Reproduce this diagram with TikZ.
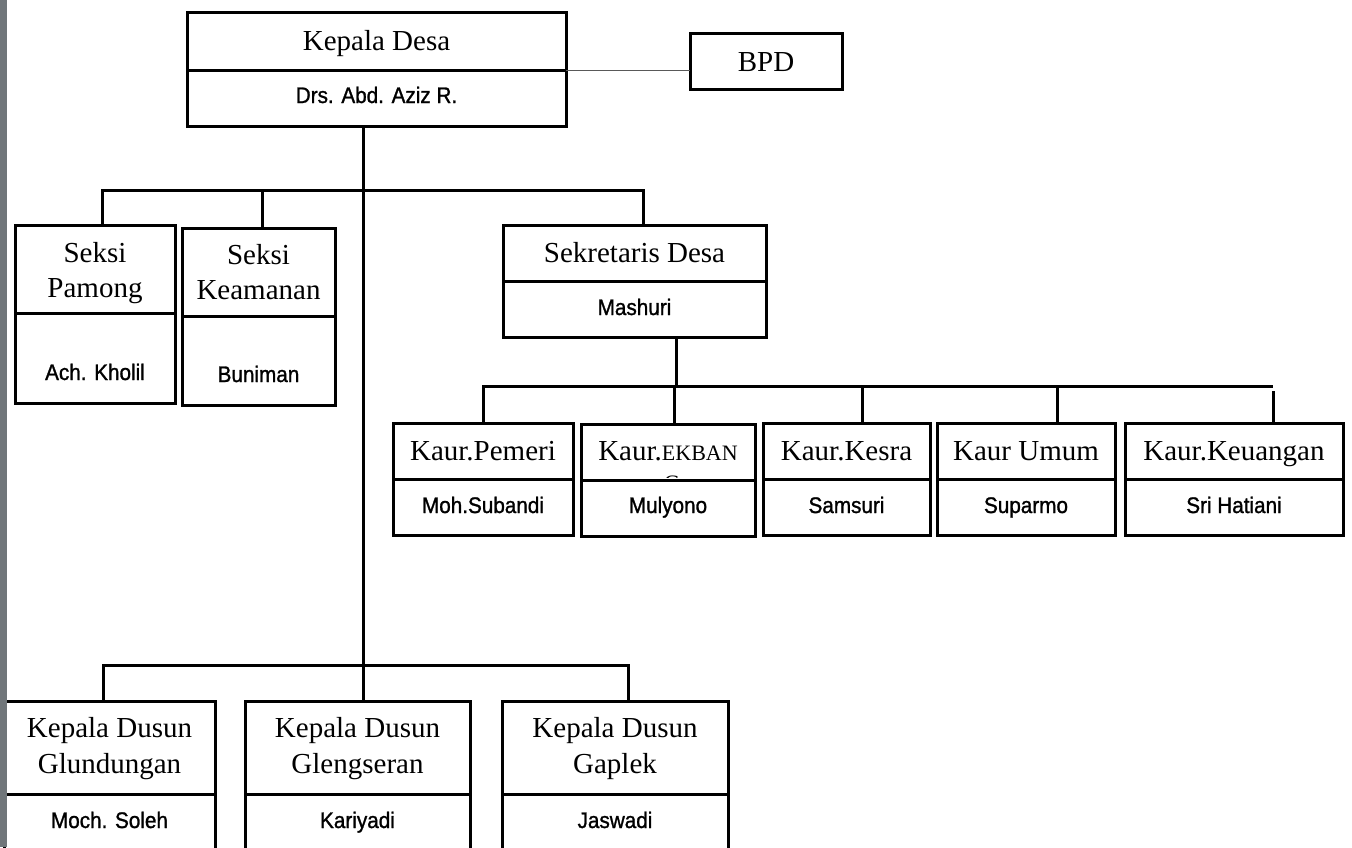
\documentclass[tikz,border=0pt]{standalone}
\usepackage{fontspec}
\usepackage{graphicx}
\setmainfont{Liberation Serif}
\newfontfamily\namefont[FakeStretch=0.92,FakeBold=1.2]{Liberation Sans}
\definecolor{scan}{RGB}{112,118,122}
\newcommand\orgfrm[5]{\node[frame,anchor=north west,minimum width=\dimexpr #4pt-#2pt\relax,minimum height=\dimexpr #5pt-#3pt\relax] (#1) at (#2,#3) {};}
\tikzset{
  frame/.style={draw, line width=3pt, inner sep=0pt, outer sep=0pt},
  ttl/.style={anchor=base, inner sep=0pt, font=\fontsize{29}{35}\selectfont},
  nm/.style={anchor=base, inner sep=0pt, font=\namefont\fontsize{22.5}{26}\selectfont},
  link/.style={line width=3pt},
  faint/.style={line width=1pt, black!65}
}
\begin{document}
\begin{tikzpicture}[x=1pt,y=-1pt]
\useasboundingbox (0,0) rectangle (1352,847);
\clip (0,0) rectangle (1352,847);
% frames
\orgfrm{kd}{187}{12}{566}{70}
\orgfrm{kdn}{187}{70}{566}{126}
\orgfrm{bpd}{690}{33}{842}{89}
\orgfrm{pam}{15}{225}{175}{313}
\orgfrm{pamn}{15}{313}{175}{403}
\orgfrm{kea}{182}{228}{335}{316}
\orgfrm{kean}{182}{316}{335}{405}
\orgfrm{sek}{503}{225}{766}{281}
\orgfrm{sekn}{503}{281}{766}{337}
\orgfrm{pem}{393}{423}{573}{479}
\orgfrm{pemn}{393}{479}{573}{535}
\orgfrm{ekb}{581}{424}{755}{480}
\orgfrm{ekbn}{581}{480}{755}{536}
\orgfrm{kes}{763}{423}{930}{479}
\orgfrm{kesn}{763}{479}{930}{535}
\orgfrm{umu}{937}{423}{1115}{479}
\orgfrm{umun}{937}{479}{1115}{535}
\orgfrm{keu}{1125}{423}{1343}{479}
\orgfrm{keun}{1125}{479}{1343}{535}
\orgfrm{glu}{4}{701}{215}{794}
\orgfrm{glun}{4}{794}{215}{860}
\orgfrm{gle}{245}{701}{470}{794}
\orgfrm{glen}{245}{794}{470}{860}
\orgfrm{gap}{502}{701}{728}{794}
\orgfrm{gapn}{502}{794}{728}{860}
% connector coordinates
\coordinate (b1L) at (102,190);
\coordinate (b1K) at (262,190);
\coordinate (b1R) at (643,190);
\coordinate (tk) at (363,190);
\coordinate (b3L) at (103,665);
\coordinate (b3R) at (628,665);
\coordinate (sk) at (676,386);
\coordinate (b2L) at (483,386);
\coordinate (b2E) at (674,386);
\coordinate (b2K) at (862,386);
\coordinate (b2U) at (1057,386);
\coordinate (b2R) at (1273,386);
\coordinate (b2Rd) at (1273,391);
% connectors
\draw[faint] (kd.south east) -- (kd.south east -| bpd.west);
\draw[link] (b1L |- pam.north) -- (b1L) -- (b1R) -- (b1R |- sek.north);
\draw[link] (b1K) -- (b1K |- kea.north);
\draw[link] (tk |- kdn.south) -- (tk |- gle.north);
\draw[link] (b3L |- glu.north) -- (b3L) -- (b3R) -- (b3R |- gap.north);
\draw[link] (sk |- sekn.south) -- (sk);
\draw[link] (b2L |- pem.north) -- (b2L) -- (b2R);
\draw[link] (b2E) -- (b2E |- ekb.north);
\draw[link] (b2K) -- (b2K |- kes.north);
\draw[link] (b2U) -- (b2U |- umu.north);
\draw[link] (b2Rd) -- (b2Rd |- keu.north);
% texts
\node[ttl] (t1) at (376.5,50) {Kepala Desa};
\node[nm] (t2) at (376.5,103) {Drs. Abd. Aziz R.};
\node[ttl] (t3) at (766,71) {BPD};
\node[ttl] (t4) at (95,262) {Seksi};
\node[ttl] (t5) at (95,297) {Pamong};
\node[nm] (t6) at (95,380) {Ach. Kholil};
\node[ttl] (t7) at (258.5,264) {Seksi};
\node[ttl] (t8) at (258.5,299) {Keamanan};
\node[nm] (t9) at (258.5,382) {Buniman};
\node[ttl] (t10) at (634.5,262) {Sekretaris Desa};
\node[nm] (t11) at (634.5,315) {Mashuri};
\node[ttl] (t12) at (483,460) {Kaur.Pemeri};
\node[nm] (t13) at (483,513) {Moh.Subandi};
\node[ttl] (t14) at (668,460) {Kaur.{\fontsize{22}{26}\selectfont EKBAN}};
\begin{scope}
\clip (581,424) rectangle (755,477);
\node[anchor=base, inner sep=0pt, font=\fontsize{22}{26}\selectfont] (t14g) at (672,490) {G};
\end{scope}
\node[nm] (t15) at (668,513) {Mulyono};
\node[ttl] (t16) at (846.5,460) {Kaur.Kesra};
\node[nm] (t17) at (846.5,513) {Samsuri};
\node[ttl] (t18) at (1026,460) {Kaur Umum};
\node[nm] (t19) at (1026,513) {Suparmo};
\node[ttl] (t20) at (1234,460) {Kaur.Keuangan};
\node[nm] (t21) at (1234,513) {Sri Hatiani};
\node[ttl] (t22) at (109.5,737) {Kepala Dusun};
\node[ttl] (t23) at (109.5,773) {Glundungan};
\node[nm] (t24) at (109.5,828) {Moch. Soleh};
\node[ttl] (t25) at (357.5,737) {Kepala Dusun};
\node[ttl] (t26) at (357.5,773) {Glengseran};
\node[nm] (t27) at (357.5,828) {Kariyadi};
\node[ttl] (t28) at (615,737) {Kepala Dusun};
\node[ttl] (t29) at (615,773) {Gaplek};
\node[nm] (t30) at (615,828) {Jaswadi};
% scanner edge
\fill[scan] (0,0) rectangle (7,847);
\end{tikzpicture}
\end{document}
